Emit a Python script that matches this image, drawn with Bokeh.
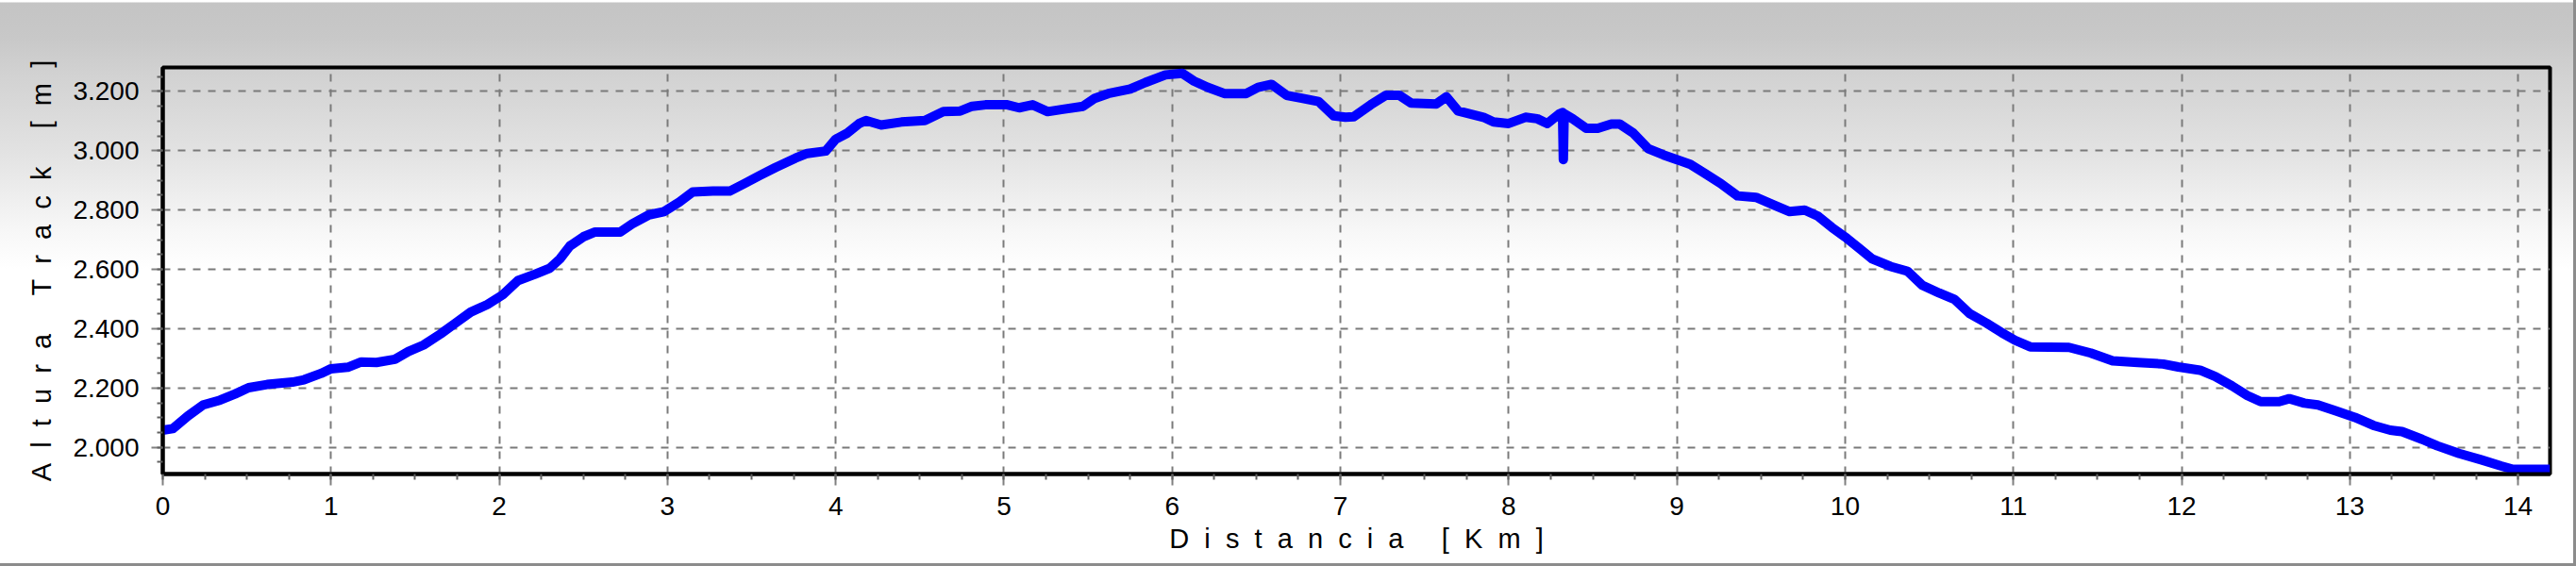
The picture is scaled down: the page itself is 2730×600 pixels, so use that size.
from bokeh.plotting import figure
from bokeh.models import Range1d, FixedTicker, CustomJSTickFormatter
from bokeh.embed import file_html
from bokeh.resources import INLINE

# ---- data ----
dist_km = [
    0.00, 0.06, 0.15, 0.24, 0.34, 0.43, 0.51, 0.62, 0.77, 0.84, 0.94, 1.00,
    1.10, 1.18, 1.27, 1.38, 1.46, 1.55, 1.65, 1.74, 1.83, 1.93, 2.02, 2.11,
    2.21, 2.30, 2.36, 2.42, 2.50, 2.57, 2.72, 2.79, 2.89, 2.98, 3.07, 3.15,
    3.27, 3.37, 3.46, 3.55, 3.64, 3.76, 3.83, 3.94, 4.00, 4.07, 4.14, 4.18,
    4.27, 4.39, 4.53, 4.64, 4.74, 4.81, 4.89, 5.02, 5.09, 5.17, 5.26, 5.35,
    5.47, 5.54, 5.62, 5.75, 5.84, 5.96, 6.06, 6.13, 6.21, 6.31, 6.44, 6.51,
    6.59, 6.68, 6.77, 6.87, 6.96, 7.03, 7.08, 7.13, 7.18, 7.27, 7.35, 7.42,
    7.57, 7.63, 7.70, 7.85, 7.91, 8.00, 8.10, 8.17, 8.23, 8.30, 8.32, 8.325,
    8.33, 8.38, 8.46, 8.53, 8.61, 8.66, 8.74, 8.83, 8.92, 9.00, 9.08, 9.17,
    9.26, 9.36, 9.47, 9.58, 9.67, 9.76, 9.84, 9.92, 10.01, 10.09, 10.16, 10.27,
    10.37, 10.46, 10.56, 10.65, 10.74, 10.84, 10.93, 11.01, 11.10, 11.33, 11.46, 11.59,
    11.74, 11.89, 11.98, 12.11, 12.20, 12.30, 12.39, 12.47, 12.58, 12.64, 12.73, 12.81,
    12.92, 13.03, 13.14, 13.24, 13.31, 13.43, 13.52, 13.65, 13.78, 13.90, 13.97, 14.19,
]
alt_m = [
    2058, 2063, 2106, 2143, 2159, 2180, 2201, 2212, 2220, 2228, 2249, 2265,
    2270, 2288, 2286, 2297, 2323, 2345, 2382, 2419, 2456, 2482, 2514, 2562,
    2583, 2604, 2635, 2679, 2710, 2726, 2726, 2753, 2784, 2795, 2827, 2861,
    2864, 2864, 2890, 2917, 2943, 2975, 2991, 2999, 3039, 3060, 3092, 3102,
    3087, 3097, 3102, 3132, 3134, 3150, 3155, 3155, 3145, 3155, 3132, 3140,
    3150, 3177, 3193, 3208, 3230, 3256, 3261, 3235, 3214, 3193, 3193, 3214,
    3224, 3187, 3177, 3166, 3118, 3113, 3115, 3135, 3155, 3187, 3187, 3161,
    3158, 3182, 3134, 3113, 3097, 3092, 3113, 3108, 3092, 3124, 3129, 2970,
    3125, 3108, 3076, 3076, 3090, 3090, 3060, 3007, 2986, 2970, 2954, 2922,
    2890, 2848, 2843, 2816, 2795, 2800, 2779, 2742, 2705, 2668, 2636, 2610,
    2594, 2546, 2520, 2499, 2451, 2419, 2387, 2361, 2339, 2337, 2318, 2292,
    2286, 2281, 2271, 2260, 2239, 2207, 2175, 2154, 2154, 2164, 2149, 2143,
    2122, 2101, 2074, 2058, 2053, 2027, 2005, 1979, 1958, 1937, 1926, 1926,
]
x_ticks = list(range(0, 15))
y_ticks = [2000, 2200, 2400, 2600, 2800, 3000, 3200]
x_label = "Distancia [Km]"
y_label = "Altura Track [m]"


def spaced(s):
    nb = "\u00a0"
    words = s.split(" ")
    return (nb * 5).join((nb * 2).join(list(w)) for w in words)


p = figure(
    width=2730, height=600,
    output_backend="svg", toolbar_location=None,
    x_range=Range1d(0, 14.19), y_range=Range1d(1910, 3281),
    min_border_left=172, min_border_right=28,
    min_border_top=71, min_border_bottom=98,
)

p.styles = {
    "background": "linear-gradient(to bottom, #ffffff 0px, #ffffff 2px, #c4c4c4 3px, #c8c8c8 40px, #d2d2d2 80px, #e2e2e2 160px, #f6f6f6 240px, #ffffff 285px, #ffffff 100%)",
    "box-shadow": "inset -3px -3px 0 #8c8c8c",
}
p.border_fill_color = None
p.background_fill_color = None
p.outline_line_color = "black"
p.outline_line_width = 4

p.line(dist_km, alt_m, line_color="#0000ff", line_width=10, line_join="round")

font = "Liberation Sans"
for ax in (p.xaxis[0], p.yaxis[0]):
    ax.axis_line_color = "black"
    ax.axis_line_width = 4
    ax.major_tick_in = 0
    ax.major_tick_out = 12
    ax.major_tick_line_color = "#808080"
    ax.major_tick_line_width = 2
    ax.minor_tick_in = 0
    ax.minor_tick_out = 6
    ax.minor_tick_line_color = "#606060"
    ax.minor_tick_line_width = 2
    ax.major_label_text_font = font
    ax.major_label_text_font_size = "28px"
    ax.major_label_text_color = "black"
    ax.axis_label_text_font = font
    ax.axis_label_text_font_size = "29px"
    ax.axis_label_text_font_style = "normal"
    ax.axis_label_text_color = "black"

p.xaxis.ticker = FixedTicker(ticks=x_ticks, minor_ticks=[i * 0.25 for i in range(0, 57)])
p.yaxis.ticker = FixedTicker(ticks=y_ticks, minor_ticks=list(range(1950, 3300, 50)))
p.yaxis.formatter = CustomJSTickFormatter(
    code="return tick.toFixed(0).replace(/\\B(?=(\\d{3})+(?!\\d))/g, '.');"
)
p.xaxis.major_label_standoff = 12
p.yaxis.major_label_standoff = 13
p.xaxis.axis_label = spaced(x_label)
p.yaxis.axis_label = spaced(y_label)
p.xaxis.axis_label_standoff = 6
p.yaxis.axis_label_standoff = 14

p.grid.grid_line_color = "#7a7a7a"
p.grid.grid_line_width = 2
p.grid.grid_line_dash = "8 8"

open("out.html", "w").write(file_html(p, INLINE))
